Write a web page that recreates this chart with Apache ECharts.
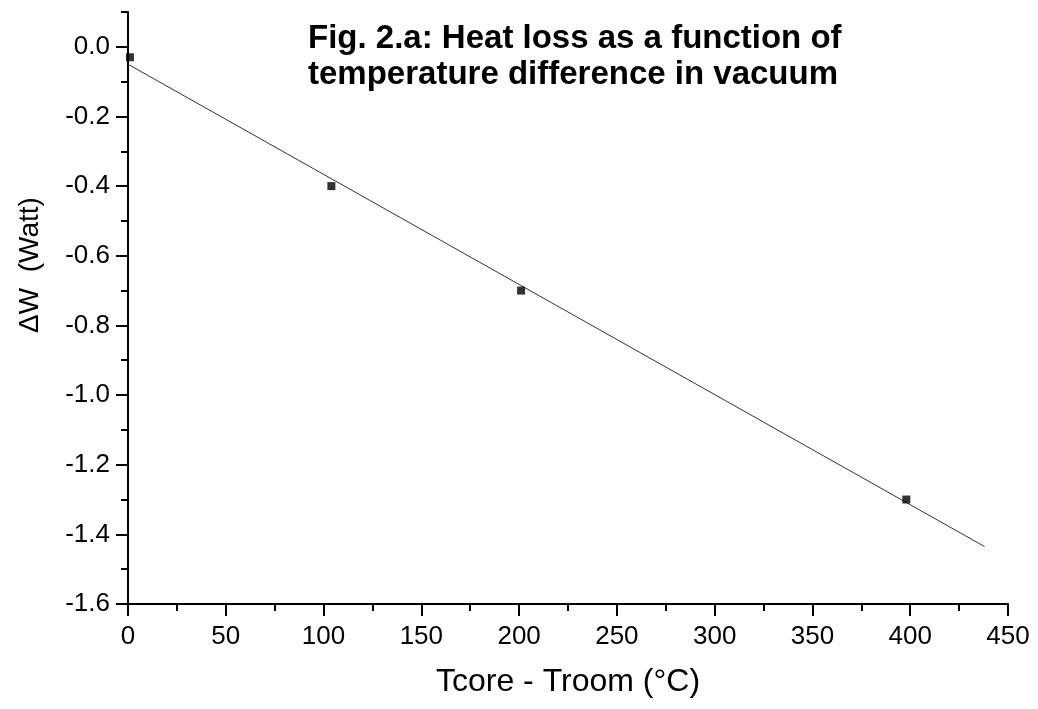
<!DOCTYPE html>
<html>
<head>
<meta charset="utf-8">
<script src="https://cdn.jsdelivr.net/npm/echarts@6/dist/echarts.min.js"></script>
<style>html,body{margin:0;padding:0;background:#fff}#c{width:1038px;height:709px}</style>
</head>
<body>
<div id="c"></div>
<script>
// Measured points
const pointX = [1, 104, 201, 398];
const pointY = [-0.03, -0.40, -0.70, -1.30];
// Linear fit line endpoints
const fitX = [0, 438];
const fitY = [-0.05, -1.435];
// Tick labels
const yMajor = [-1.6, -1.4, -1.2, -1.0, -0.8, -0.6, -0.4, -0.2, 0.0];
const yMinor = [-1.5, -1.3, -1.1, -0.9, -0.7, -0.5, -0.3, -0.1, 0.1];
const titleText = 'Fig. 2.a: Heat loss as a function of\ntemperature difference in vacuum';
const xName = 'Tcore - Troom (°C)';
const yName = '\u0394W  (Watt)';

const FONT = 'Liberation Sans, Arial, sans-serif';
const chart = echarts.init(document.getElementById('c'), null, {renderer: 'canvas'});
chart.setOption({
  backgroundColor: '#fff',
  animation: false,
  title: {
    text: titleText,
    left: 308, top: 21, padding: 0,
    textStyle: {fontFamily: FONT, fontWeight: 'bold', fontSize: 33, lineHeight: 36, color: '#000'}
  },
  graphic: [{
    type: 'text', x: 30, y: 265, rotation: Math.PI / 2,
    style: {text: yName, font: '28px ' + FONT, fill: '#000', align: 'center', verticalAlign: 'middle'}
  }],
  grid: {left: 128, right: 30, top: 12, bottom: 105},
  xAxis: {
    type: 'value', min: 0, max: 450, interval: 50,
    name: xName, nameLocation: 'middle', nameGap: 62,
    nameTextStyle: {fontFamily: FONT, fontSize: 32, color: '#000'},
    axisLine: {show: true, onZero: false, lineStyle: {color: '#000', width: 2}},
    axisTick: {show: true, inside: false, length: 12, lineStyle: {color: '#000', width: 2}},
    minorTick: {show: true, splitNumber: 2, length: 7, lineStyle: {color: '#000', width: 2}},
    axisLabel: {fontFamily: FONT, fontSize: 26, color: '#000', margin: 20},
    splitLine: {show: false}
  },
  yAxis: [{
    type: 'value', min: -1.6, max: 0.1, interval: 0.2, position: 'left',
    axisLine: {show: true, onZero: false, lineStyle: {color: '#000', width: 2}},
    axisTick: {show: true, inside: false, length: 12, customValues: yMajor, lineStyle: {color: '#000', width: 2}},
    axisLabel: {fontFamily: FONT, fontSize: 26, color: '#000', margin: 18, customValues: yMajor,
      formatter: v => v.toFixed(1)},
    splitLine: {show: false}
  }, {
    type: 'value', min: -1.6, max: 0.1, interval: 0.2, position: 'left', offset: 0,
    axisLine: {show: false, onZero: false},
    axisTick: {show: true, inside: false, length: 7, customValues: yMinor, lineStyle: {color: '#000', width: 2}},
    axisLabel: {show: false},
    splitLine: {show: false}
  }],
  series: [{
    type: 'line',
    data: fitX.map((x, i) => [x, fitY[i]]),
    showSymbol: false, symbol: 'none',
    lineStyle: {color: '#333', width: 1},
    z: 1
  }, {
    type: 'scatter',
    data: pointX.map((x, i) => [x, pointY[i]]),
    symbol: 'rect', symbolSize: 8,
    itemStyle: {color: '#000'},
    z: 3
  }]
});
</script>
</body>
</html>
